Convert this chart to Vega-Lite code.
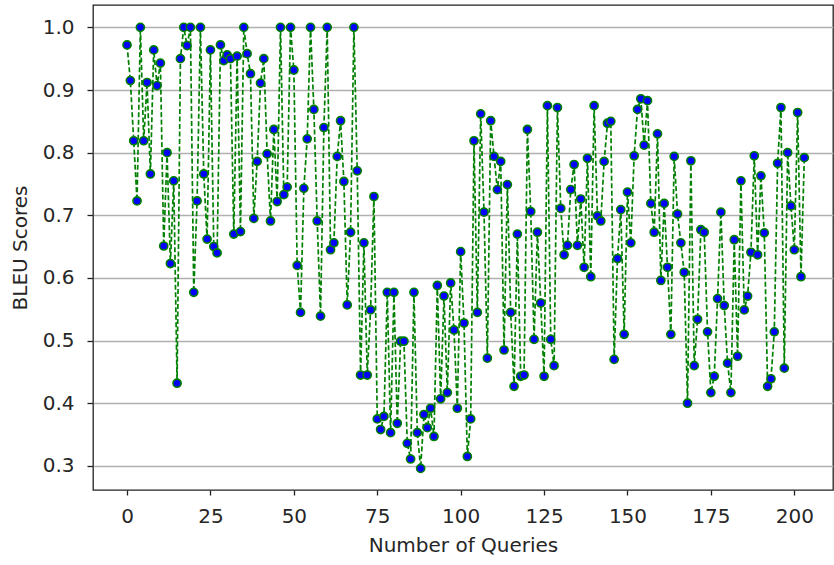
{
  "$schema": "https://vega.github.io/schema/vega-lite/v6.json",
  "width": 740,
  "height": 485,
  "autosize": "none",
  "padding": {"left": 93, "top": 5, "right": 1, "bottom": 75},
  "background": "white",
  "config": {
    "font": "DejaVu Sans",
    "view": {"stroke": "#222222", "strokeWidth": 1.3},
    "axis": {
      "domain": false,
      "tickColor": "#222222",
      "tickSize": 5,
      "tickWidth": 1.3,
      "labelFontSize": 20,
      "labelColor": "#262626",
      "titleFontSize": 20,
      "titleFontWeight": "normal",
      "titleColor": "#262626",
      "gridColor": "#b0b0b0",
      "gridWidth": 1.3
    }
  },
  "data": {"values": [
    {"q":0,"bleu":0.972},{"q":1,"bleu":0.915},{"q":2,"bleu":0.819},{"q":3,"bleu":0.723},{"q":4,"bleu":1.0},
    {"q":5,"bleu":0.819},{"q":6,"bleu":0.912},{"q":7,"bleu":0.766},{"q":8,"bleu":0.964},{"q":9,"bleu":0.907},
    {"q":10,"bleu":0.943},{"q":11,"bleu":0.651},{"q":12,"bleu":0.80},{"q":13,"bleu":0.623},{"q":14,"bleu":0.755},
    {"q":15,"bleu":0.432},{"q":16,"bleu":0.95},{"q":17,"bleu":1.0},{"q":18,"bleu":0.971},{"q":19,"bleu":1.0},
    {"q":20,"bleu":0.577},{"q":21,"bleu":0.723},{"q":22,"bleu":1.0},{"q":23,"bleu":0.766},{"q":24,"bleu":0.662},
    {"q":25,"bleu":0.964},{"q":26,"bleu":0.65},{"q":27,"bleu":0.64},{"q":28,"bleu":0.972},{"q":29,"bleu":0.947},
    {"q":30,"bleu":0.956},{"q":31,"bleu":0.95},{"q":32,"bleu":0.67},{"q":33,"bleu":0.954},{"q":34,"bleu":0.674},
    {"q":35,"bleu":1.0},{"q":36,"bleu":0.958},{"q":37,"bleu":0.926},{"q":38,"bleu":0.695},{"q":39,"bleu":0.786},
    {"q":40,"bleu":0.911},{"q":41,"bleu":0.95},{"q":42,"bleu":0.798},{"q":43,"bleu":0.691},{"q":44,"bleu":0.837},
    {"q":45,"bleu":0.722},{"q":46,"bleu":1.0},{"q":47,"bleu":0.733},{"q":48,"bleu":0.745},{"q":49,"bleu":1.0},
    {"q":50,"bleu":0.932},{"q":51,"bleu":0.62},{"q":52,"bleu":0.545},{"q":53,"bleu":0.743},{"q":54,"bleu":0.822},
    {"q":55,"bleu":1.0},{"q":56,"bleu":0.869},{"q":57,"bleu":0.691},{"q":58,"bleu":0.539},{"q":59,"bleu":0.84},
    {"q":60,"bleu":1.0},{"q":61,"bleu":0.645},{"q":62,"bleu":0.656},{"q":63,"bleu":0.794},{"q":64,"bleu":0.851},
    {"q":65,"bleu":0.754},{"q":66,"bleu":0.557},{"q":67,"bleu":0.673},{"q":68,"bleu":1.0},{"q":69,"bleu":0.771},
    {"q":70,"bleu":0.445},{"q":71,"bleu":0.656},{"q":72,"bleu":0.445},{"q":73,"bleu":0.549},{"q":74,"bleu":0.73},
    {"q":75,"bleu":0.375},{"q":76,"bleu":0.358},{"q":77,"bleu":0.379},{"q":78,"bleu":0.577},{"q":79,"bleu":0.353},
    {"q":80,"bleu":0.577},{"q":81,"bleu":0.368},{"q":82,"bleu":0.499},{"q":83,"bleu":0.499},{"q":84,"bleu":0.336},
    {"q":85,"bleu":0.311},{"q":86,"bleu":0.577},{"q":87,"bleu":0.353},{"q":88,"bleu":0.296},{"q":89,"bleu":0.382},
    {"q":90,"bleu":0.361},{"q":91,"bleu":0.392},{"q":92,"bleu":0.347},{"q":93,"bleu":0.588},{"q":94,"bleu":0.407},
    {"q":95,"bleu":0.571},{"q":96,"bleu":0.417},{"q":97,"bleu":0.592},{"q":98,"bleu":0.517},{"q":99,"bleu":0.392},
    {"q":100,"bleu":0.642},{"q":101,"bleu":0.528},{"q":102,"bleu":0.315},{"q":103,"bleu":0.375},{"q":104,"bleu":0.819},
    {"q":105,"bleu":0.545},{"q":106,"bleu":0.862},{"q":107,"bleu":0.705},{"q":108,"bleu":0.472},{"q":109,"bleu":0.851},
    {"q":110,"bleu":0.794},{"q":111,"bleu":0.741},{"q":112,"bleu":0.786},{"q":113,"bleu":0.485},{"q":114,"bleu":0.749},
    {"q":115,"bleu":0.545},{"q":116,"bleu":0.427},{"q":117,"bleu":0.67},{"q":118,"bleu":0.443},{"q":119,"bleu":0.445},
    {"q":120,"bleu":0.837},{"q":121,"bleu":0.706},{"q":122,"bleu":0.502},{"q":123,"bleu":0.673},{"q":124,"bleu":0.56},
    {"q":125,"bleu":0.443},{"q":126,"bleu":0.875},{"q":127,"bleu":0.502},{"q":128,"bleu":0.46},{"q":129,"bleu":0.872},
    {"q":130,"bleu":0.711},{"q":131,"bleu":0.637},{"q":132,"bleu":0.652},{"q":133,"bleu":0.741},{"q":134,"bleu":0.781},
    {"q":135,"bleu":0.652},{"q":136,"bleu":0.726},{"q":137,"bleu":0.617},{"q":138,"bleu":0.791},{"q":139,"bleu":0.602},
    {"q":140,"bleu":0.875},{"q":141,"bleu":0.699},{"q":142,"bleu":0.691},{"q":143,"bleu":0.786},{"q":144,"bleu":0.847},
    {"q":145,"bleu":0.85},{"q":146,"bleu":0.47},{"q":147,"bleu":0.631},{"q":148,"bleu":0.709},{"q":149,"bleu":0.51},
    {"q":150,"bleu":0.737},{"q":151,"bleu":0.656},{"q":152,"bleu":0.795},{"q":153,"bleu":0.869},{"q":154,"bleu":0.886},
    {"q":155,"bleu":0.812},{"q":156,"bleu":0.883},{"q":157,"bleu":0.719},{"q":158,"bleu":0.673},{"q":159,"bleu":0.83},
    {"q":160,"bleu":0.596},{"q":161,"bleu":0.719},{"q":162,"bleu":0.617},{"q":163,"bleu":0.51},{"q":164,"bleu":0.794},
    {"q":165,"bleu":0.702},{"q":166,"bleu":0.656},{"q":167,"bleu":0.609},{"q":168,"bleu":0.4},{"q":169,"bleu":0.787},
    {"q":170,"bleu":0.46},{"q":171,"bleu":0.534},{"q":172,"bleu":0.677},{"q":173,"bleu":0.673},{"q":174,"bleu":0.514},
    {"q":175,"bleu":0.417},{"q":176,"bleu":0.443},{"q":177,"bleu":0.567},{"q":178,"bleu":0.705},{"q":179,"bleu":0.556},
    {"q":180,"bleu":0.464},{"q":181,"bleu":0.417},{"q":182,"bleu":0.661},{"q":183,"bleu":0.475},{"q":184,"bleu":0.755},
    {"q":185,"bleu":0.549},{"q":186,"bleu":0.571},{"q":187,"bleu":0.641},{"q":188,"bleu":0.795},{"q":189,"bleu":0.637},
    {"q":190,"bleu":0.763},{"q":191,"bleu":0.672},{"q":192,"bleu":0.427},{"q":193,"bleu":0.439},{"q":194,"bleu":0.514},
    {"q":195,"bleu":0.783},{"q":196,"bleu":0.872},{"q":197,"bleu":0.456},{"q":198,"bleu":0.8},{"q":199,"bleu":0.715},
    {"q":200,"bleu":0.645},{"q":201,"bleu":0.864},{"q":202,"bleu":0.602},{"q":203,"bleu":0.792}
  ]},
  "encoding": {
    "x": {
      "field": "q", "type": "quantitative",
      "scale": {"domain": [-10.2, 211.6], "nice": false, "zero": false},
      "axis": {"title": "Number of Queries", "values": [0,25,50,75,100,125,150,175,200], "grid": false, "labelPadding": 11, "titlePadding": 9}
    },
    "y": {
      "field": "bleu", "type": "quantitative",
      "scale": {"domain": [0.2615, 1.0357], "nice": false, "zero": false},
      "axis": {"title": "BLEU Scores", "values": [0.3,0.4,0.5,0.6,0.7,0.8,0.9,1.0], "format": ".1f", "grid": true, "tickSize": 6, "labelPadding": 13, "titlePadding": 12}
    }
  },
  "layer": [
    {"mark": {"type": "line", "color": "#008000", "strokeWidth": 1.7, "strokeDash": [5, 2.5], "clip": true}},
    {"mark": {"type": "point", "shape": "circle", "filled": true, "fill": "#0000ff", "stroke": "#008000", "strokeWidth": 1.6, "size": 66, "opacity": 1, "clip": true}}
  ]
}
